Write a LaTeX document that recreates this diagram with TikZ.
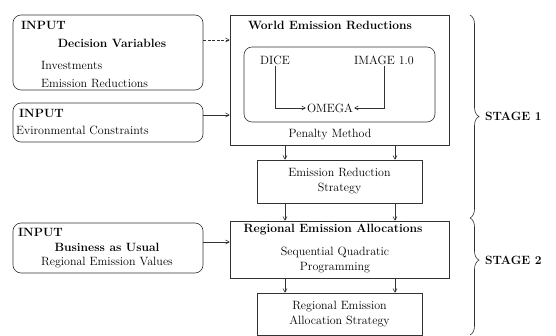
\documentclass[tikz,border=0pt]{standalone}
\usetikzlibrary{arrows.meta,positioning,calc,decorations.pathreplacing}
\tikzset{box/.style={draw=black!80,line width=.6pt,inner sep=0pt},
  inbox/.style={box,rounded corners=8pt},
  txt/.style={inner sep=1pt,font=\fontsize{12}{15}\selectfont},
  btxt/.style={inner sep=1pt,font=\fontsize{12}{15}\selectfont\bfseries},
  arr/.style={-{Straight Barb[length=3.5pt,width=4pt]},line width=.6pt,black!80},
  stagebrace/.style={decorate,decoration={brace,amplitude=9pt},line width=.6pt,black!80}}

\begin{document}
\begin{tikzpicture}[x=1pt,y=-1pt]
\useasboundingbox (0,0) rectangle (556,336);
% inputs
\node[inbox,minimum width=190pt,minimum height=75pt] (in1) at (108,52.5) {};
\node[btxt,anchor=west] (in1t) at (20,25) {INPUT};
\node[btxt] (dv) at (112,43) {Decision Variables};
\node[txt,anchor=west] (inv) at (40,65) {Investments};
\node[txt,anchor=west] (er) at (40,83) {Emission Reductions};
\node[inbox,minimum width=190pt,minimum height=39pt] (in2) at (108,122.5) {};
\node[btxt,anchor=west] (in2t) at (18,113) {INPUT};
\node[txt,anchor=west] (ec) at (15,130) {Evironmental Constraints};
\node[inbox,minimum width=190pt,minimum height=50pt] (in3) at (108,248) {};
\node[btxt,anchor=west] (in3t) at (17,232) {INPUT};
\node[btxt] (bau) at (107,247) {Business as Usual};
\node[txt] (rev) at (107,263) {Regional Emission Values};
% stage 1
\node[box,minimum width=219pt,minimum height=130pt] (world) at (339.5,80) {};
\node[btxt] (wt) at (330,25) {World Emission Reductions};
\node[inbox,minimum width=191pt,minimum height=75pt] (inner) at (339.5,84.5) {};
\node[txt] (dice) at (275,60) {DICE};
\node[txt] (image) at (384,60) {IMAGE 1.0};
\node[txt] (omega) at (330,108) {OMEGA};
\node[txt] (pm) at (330,135) {Penalty Method};
\node[box,txt,align=center,minimum width=165pt,minimum height=43pt] (ers) at (339.5,181.5) {Emission Reduction\\Strategy};
% stage 2
\node[box,minimum width=219pt,minimum height=57pt] (ra) at (339.5,249.5) {};
\node[btxt] (rat) at (333,230) {Regional Emission Allocations};
\node[txt,align=center] (sqp) at (335,260) {Sequential Quadratic\\Programming};
\node[box,txt,align=center,minimum width=165pt,minimum height=42pt] (ras) at (339.5,314) {Regional Emission\\Allocation Strategy};
\coordinate (cl) at (285,0);
\coordinate (cr) at (395,0);
\coordinate (y1) at (0,40);
\coordinate (y2) at (0,115);
\coordinate (y3) at (0,242);
% connectors
\draw[arr,dashed,dash pattern=on 3pt off 1.5pt] (in1.east |- y1) -- (world.west |- y1);
\draw[arr] (in2.east |- y2) -- (world.west |- y2);
\draw[arr] (in3.east |- y3) -- (ra.west |- y3);
\draw[arr] (dice.south) |- (omega.west);
\draw[arr] (image.south) |- (omega.east);
\foreach \c in {cl,cr}{
  \draw[arr] (world.south -| \c) -- (ers.north -| \c);
  \draw[arr] (ers.south -| \c) -- (ra.north -| \c);
  \draw[arr] (ra.south -| \c) -- (ras.north -| \c);
}
% stages
\coordinate (b1) at (470,15);
\coordinate (b2) at (470,218);
\coordinate (b3) at (470,335);
\draw[stagebrace] (b1) -- (b2);
\draw[stagebrace,decoration={aspect=0.36}] (b2) -- (b3);
\node[btxt,anchor=west] (s1) at (484,116) {STAGE 1};
\node[btxt,anchor=west] (s2) at (484,260) {STAGE 2};
\end{tikzpicture}
\end{document}
